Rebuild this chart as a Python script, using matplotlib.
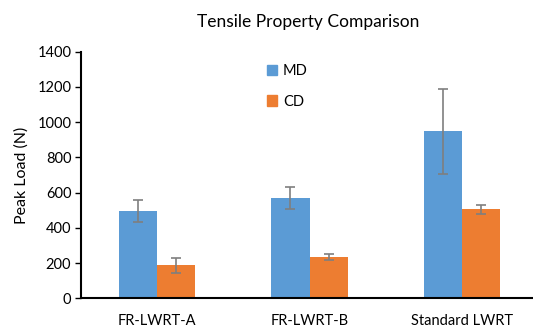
import numpy as np
import matplotlib.pyplot as plt
from matplotlib.patches import Patch

categories = ["FR-LWRT-A", "FR-LWRT-B", "Standard LWRT"]
md_values = [494, 568, 949]
md_errors = [63, 63, 241]
cd_values = [187, 234, 505]
cd_errors = [41, 15, 26]

plt.rcParams['font.family'] = ['Lato', 'DejaVu Sans']

fig = plt.figure(figsize=(5.33, 3.31), dpi=100)
ax = fig.add_axes([0.152, 0.0988, 1.0094 - 0.152, 0.745])

x = np.arange(len(categories))
w = 0.25
blue = '#5B9BD5'
orange = '#ED7D31'
err_kw = dict(ecolor='#7F7F7F', elinewidth=1.2, capsize=3.5, capthick=1.2)

ax.bar(x - w / 2, md_values, w, color=blue, yerr=md_errors, error_kw=err_kw, zorder=2)
ax.bar(x + w / 2, cd_values, w, color=orange, yerr=cd_errors, error_kw=err_kw, zorder=2)

ax.set_xlim(-0.5, 2.5)
ax.set_ylim(0, 1400)
ax.set_yticks(np.arange(0, 1401, 200))
ax.set_xticks(x)
ax.set_xticklabels(categories, fontsize=10.5)
ax.tick_params(axis='x', length=0, pad=11)
ax.tick_params(axis='y', length=4, width=1, labelsize=10.5, pad=3)

for s in ['top', 'right']:
    ax.spines[s].set_visible(False)
for s in ['left', 'bottom']:
    ax.spines[s].set_linewidth(1.5)
    ax.spines[s].set_color('black')

ax.set_ylabel("Peak Load (N)", fontsize=11.5, labelpad=6)
fig.text(0.578, 0.935, "Tensile Property Comparison", ha='center', va='center', fontsize=12.5)

handles = [Patch(color=blue, label='MD'), Patch(color=orange, label='CD')]
fig.legend(handles=handles, loc='upper left', bbox_to_anchor=(0.49, 0.825),
           frameon=False, handlelength=0.7, handleheight=0.7, handletextpad=0.4,
           labelspacing=1.15, fontsize=10.5, borderaxespad=0)

fig.savefig("out.png", dpi=100)
